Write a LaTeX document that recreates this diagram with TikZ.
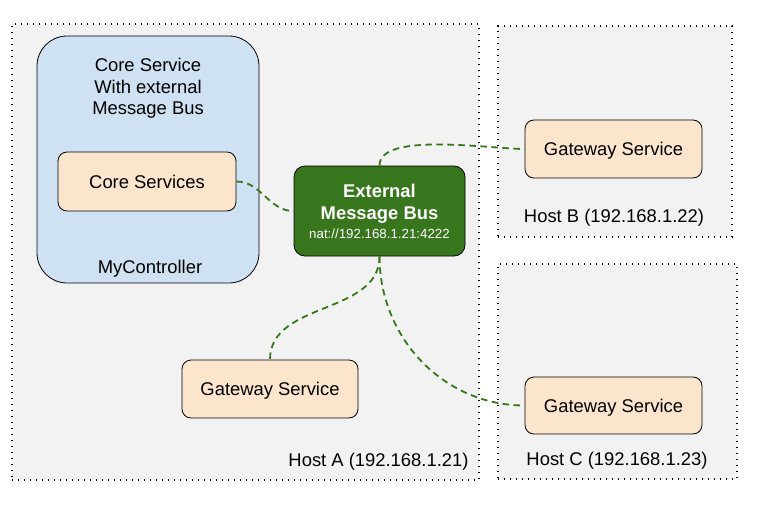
\documentclass[tikz,border=0pt]{standalone}
\usepackage{fontspec}
\setmainfont{Liberation Sans}
\definecolor{hostgray}{HTML}{F2F2F2}
\definecolor{ctrlblue}{HTML}{CFE2F3}
\definecolor{svcpeach}{HTML}{FCE5CD}
\definecolor{busgreen}{HTML}{38761D}
\tikzset{
  hostbox/.style={draw=black, fill=hostgray, line width=1.3pt, dash pattern=on 1.3pt off 4.7pt, inner sep=0pt},
  ctrlbox/.style={draw=black, fill=ctrlblue, line width=0.8pt, rounded corners=30pt, inner sep=0pt},
  svcbox/.style={draw=black, fill=svcpeach, line width=0.8pt, rounded corners=9pt, text depth=0pt,
    font=\fontsize{18.4}{22}\selectfont},
  busbox/.style={draw=black, fill=busgreen, line width=0.8pt, rounded corners=11pt, text=white, align=center,
    font=\fontsize{18.4}{22}\selectfont\bfseries},
  lbl/.style={font=\fontsize{18.4}{21.5}\selectfont, align=center, inner sep=0pt},
  link/.style={draw=busgreen, line width=1.8pt, dash pattern=on 6.5pt off 4.5pt},
}
\begin{document}
\begin{tikzpicture}[x=1pt, y=1pt]
    \useasboundingbox (0,0) rectangle (762,507);
    % hosts
    \node[hostbox, minimum width=467pt, minimum height=456pt] (hostA) at (245.5,255) {};
    \node[hostbox, minimum width=234pt, minimum height=211pt] (hostB) at (615,375.5) {};
    \node[hostbox, minimum width=239pt, minimum height=215pt] (hostC) at (617.5,135.5) {};
    \node[lbl] (hostAlbl) at (378.5,45) {Host A (192.168.1.21)};
    \node[lbl] (hostBlbl) at (614,289) {Host B (192.168.1.22)};
    \node[lbl] (hostClbl) at (617,46) {Host C (192.168.1.23)};
    % controller
    \node[ctrlbox, minimum width=222pt, minimum height=247pt] (ctrl) at (148,347.5) {};
    \node[lbl] (ctrltitle) at (148,418.5) {Core Service\\With external\\Message Bus};
    \node[lbl] (ctrllbl) at (150,238) {MyController};
    \node[svcbox, minimum width=178pt, minimum height=59pt] (core) at (147,325.5) {Core Services};
    % bus and gateways
    \node[busbox, minimum width=171pt, minimum height=90pt] (bus) at (379.5,296)
      {External\\Message Bus\\[-3pt]{\fontsize{13.3}{15}\selectfont\mdseries nat://192.168.1.21:4222}};
    \node[svcbox, minimum width=176pt, minimum height=58pt] (gwA) at (270,118) {Gateway Service};
    \node[svcbox, minimum width=177pt, minimum height=58pt] (gwB) at (613.5,358) {Gateway Service};
    \node[svcbox, minimum width=177pt, minimum height=57pt] (gwC) at (613.5,101.5) {Gateway Service};
    % links
    \draw[link] (core.east) to[out=0, in=180] (bus.west);
    \draw[link] (bus.north) to[out=90, in=180, looseness=0.6] (gwB.west);
    \draw[link] (bus.south) to[out=-90, in=90] (gwA.north);
    \draw[link] (bus.south) to[out=-90, in=180] (gwC.west);
  \end{tikzpicture}
\end{document}
